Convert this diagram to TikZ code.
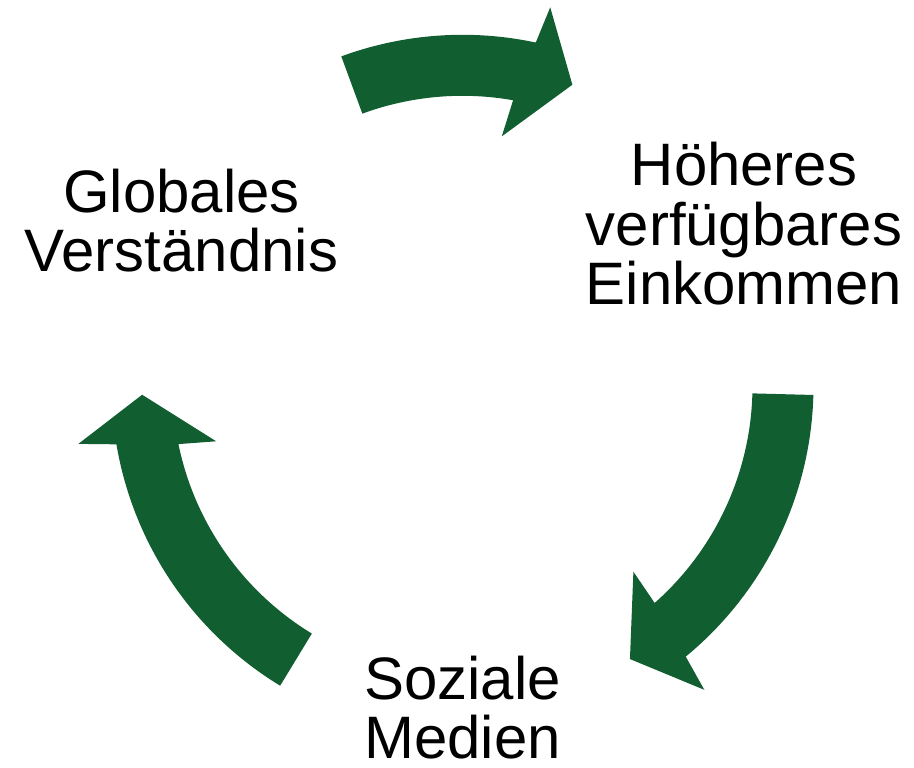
\documentclass[tikz,border=0pt]{standalone}
\usepackage{fontspec}
\setmainfont{Liberation Sans}
\usepackage{tikz}
\usetikzlibrary{positioning,calc}
\definecolor{cgreen}{RGB}{17,94,49}
\tikzset{
  lbl/.style={align=center,inner sep=0pt,font=\fontsize{34.1pt}{33.9pt}\selectfont},
  blockarr/.style={fill=cgreen,draw=none}
}
\begin{document}
\begin{tikzpicture}[x=0.02cm,y=0.02cm]
\useasboundingbox (0,0) rectangle (914,768);
\coordinate (c) at (462.5,382.2);
% curved block arrows, tail angle / tip angle
\begin{scope}[shift={(c)}]
\foreach \t/\h [evaluate=\h as \ho using \h+8, evaluate=\h as \hi using \h+10] in {110.2/69.95,-1.5/-58.5,238.7/181.6}
  \fill[blockarr] (\t:290) -- (\t:351) arc[start angle=\t,end angle=\ho,radius=351]
    -- (\h+7:388.5) -- (\h:320.5) -- (\h+11.1:252.5) -- (\hi:290)
    arc[start angle=\hi,end angle=\t,radius=290] -- cycle;
\end{scope}
% base = baseline of the last line
\node[lbl,anchor=base] (einkommen) at (744,463) {Höheres\\verfügbares\\Einkommen};
\node[lbl,anchor=base] (glob) at (181.5,496) {Globales\\Verständnis};
\node[lbl,anchor=base] (medien) at (462.5,9) {Soziale\\Medien};
\end{tikzpicture}
\end{document}
